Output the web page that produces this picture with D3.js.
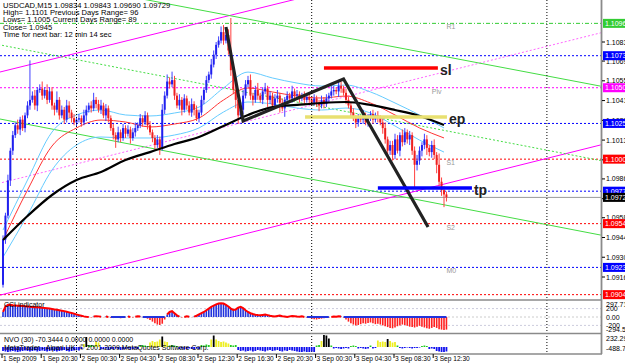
<!DOCTYPE html>
<meta charset="utf-8">
<style>
  body { margin: 0; background: #fff; }
  svg { display: block; font-family: "Liberation Sans", Arial, sans-serif; }
  .axis-text { font-size: 7px; fill: #000; }
  .time-text { font-size: 6.6px; fill: #000; }
</style>
<body>
<svg width="625" height="363"></svg>
<script src="https://d3js.org/d3.v7.min.js"></script>
<script>
    // ---- data ----
    let firstOpen = 1.0911;
    let closes = [
        1.0943,1.0960,1.0985,1.1006,1.1017,1.1024,1.1021,1.1028,1.1022,1.1031,
        1.1038,1.1042,1.1045,1.1038,1.1049,1.1050,1.1045,1.1049,1.1042,1.1048,
        1.1038,1.1035,1.1042,1.1031,1.1035,1.1028,1.1038,1.1033,1.1029,1.1026,
        1.1028,1.1029,1.1026,1.1031,1.1035,1.1038,1.1036,1.1042,1.1039,1.1035,
        1.1038,1.1031,1.1036,1.1029,1.1022,1.1017,1.1014,1.1019,1.1015,1.1022,
        1.1018,1.1021,1.1015,1.1019,1.1022,1.1024,1.1029,1.1026,1.1031,1.1024,
        1.1019,1.1015,1.1010,1.1014,1.1008,1.1035,1.1045,1.1055,1.1053,1.1056,
        1.1045,1.1038,1.1042,1.1035,1.1043,1.1038,1.1033,1.1039,1.1035,1.1029,
        1.1033,1.1042,1.1049,1.1056,1.1060,1.1067,1.1074,1.1081,1.1084,1.1090,
        1.1084,1.1088,1.1077,1.1063,1.1049,1.1042,1.1031,1.1035,1.1045,1.1053,
        1.1056,1.1045,1.1042,1.1049,1.1045,1.1042,1.1048,1.1050,1.1042,1.1045,
        1.1038,1.1043,1.1045,1.1040,1.1036,1.1042,1.1045,1.1043,1.1048,1.1045,
        1.1046,1.1043,1.1045,1.1042,1.1044,1.1042,1.1040,1.1043,1.1040,1.1038,
        1.1042,1.1039,1.1043,1.1045,1.1048,1.1049,1.1048,1.1052,1.1050,1.1047,
        1.1042,1.1038,1.1033,1.1029,1.1026,1.1029,1.1028,1.1031,1.1026,1.1029,
        1.1032,1.1028,1.1031,1.1029,1.1026,1.1022,1.1014,1.1006,1.1010,1.1003,
        1.1014,1.1006,1.1017,1.1012,1.1019,1.1014,1.1017,1.1006,1.0996,1.0999,
        1.1006,1.1010,1.1014,1.1008,1.1005,1.1010,1.1003,1.0996,1.0984,1.0978,
        1.0975,1.0973
    ];
    // wick lengths in pips above / below the body
    let wickUp = [
        3,2,4,2,3,2,4,2,3,2, 3,28,3,4,2,3,5,2,4,3, 3,2,6,2,3,2,4,3,2,3,
        2,3,2,4,3,2,3,5,2,3, 4,2,3,2,2,3,2,4,2,3, 2,3,2,3,4,2,3,2,3,2,
        3,2,2,3,2,4,3,5,3,6, 3,2,4,2,3,2,3,4,2,3, 2,3,2,3,2,4,3,2,3,4,
        5,3,4,23,4,8,3,5,4,3, 3,4,2,3,5,2,3,4,2,3, 2,3,4,2,3,2,3,2,4,2,
        3,2,2,3,2,3,2,3,2,2, 3,2,3,2,4,3,2,4,3,2, 3,2,2,3,2,3,2,4,2,3,
        2,3,2,3,2,3,4,2,3,3, 4,3,2,4,3,2,3,2,3,4, 3,2,4,3,2,3,4,2,8,3,
        3,2
    ];
    let wickDn = [
        2,3,2,4,3,2,3,4,2,3, 2,3,2,3,4,2,3,2,3,2, 3,4,2,3,2,3,2,4,3,2,
        3,2,3,2,4,2,3,2,3,2, 3,2,4,3,2,3,6,2,3,2, 3,2,4,2,3,2,2,3,2,3,
        2,3,4,2,5,2,3,2,3,2, 3,2,3,4,2,3,2,3,4,2, 3,2,3,2,2,3,2,3,2,2,
        3,2,3,4,3,6,6,2,3,2, 2,3,4,2,3,2,3,2,5,3, 3,2,3,7,2,6,3,2,3,2,
        2,3,2,3,2,3,2,2,3,4, 2,3,2,3,2,3,2,4,3,2, 3,2,3,2,4,3,2,3,2,3,
        2,3,2,3,2,4,3,5,3,4, 3,2,4,3,2,3,4,3,16,4, 3,4,3,5,3,4,3,6,3,4,
        9,3
    ];

    // moving averages, sampled every 10 bars
    let maBars = [0,10,20,30,40,50,60,70,80,90,100,110,120,130,140,150,160,170,180];
    let maSlow = [1.09427,1.09597,1.09746,1.09852,1.09909,1.09994,1.10050,1.10107,1.10157,1.10235,1.10313,1.10369,1.10384,1.10398,1.10405,1.10384,1.10348,1.10306,1.10242];
    let maFast = [1.09427,1.09781,1.10093,1.10221,1.10277,1.10263,1.10228,1.10249,1.10291,1.10419,1.10504,1.10476,1.10447,1.10433,1.10447,1.10398,1.10313,1.10221,1.10150];
    let envUp  = [1.09498,1.09852,1.10192,1.10313,1.10348,1.10313,1.10306,1.10327,1.10369,1.10504,1.10617,1.10575,1.10539,1.10518,1.10525,1.10476,1.10398,1.10313,1.10221];
    let envDn  = [1.09306,1.09604,1.09923,1.10100,1.10157,1.10150,1.10150,1.10171,1.10221,1.10334,1.10405,1.10391,1.10362,1.10348,1.10362,1.10327,1.10235,1.10135,1.10050];

    let cci = [
        120,250,285,290,280,275,270,265,260,255, 250,245,240,235,230,225,220,215,210,200,
        190,180,170,160,150,140,125,110,95,80, 60,45,30,15,5,0,-10,10,20,15,
        5,-5,10,0,-15,-25,-10,-20,-30,-15, -5,10,0,-10,5,15,10,-5,-20,-40,
        -70,-110,-150,-180,-190,-160,-60,60,120,140, 90,40,10,-10,0,15,5,-5,10,30,
        60,90,120,160,200,240,270,300,320,330, 320,290,250,200,170,180,220,240,210,160,
        120,90,70,55,45,40,50,60,45,30, 20,10,25,35,20,10,0,15,25,20,
        10,5,15,0,-10,-25,-40,-55,-60,-50, -40,-30,-20,-10,0,10,5,15,10,-10,
        -60,-110,-150,-180,-200,-190,-170,-150,-160,-140, -130,-150,-170,-160,-180,-200,-220,-240,-260,-270,
        -250,-220,-200,-180,-190,-210,-230,-240,-250,-230, -210,-230,-250,-270,-280,-260,-240,-260,-290,-300,
        -310,-300
    ];
    let nvo = [
        -80,-90,-100,-90,-80,-90,-100,-90,-80,-70, -80,-90,-80,-70,-90,-80,-70,-80,-90,-80,
        -70,-80,-90,-80,-70,-60,-80,-90,-80,-70, -60,-70,-40,60,200,40,40,30,100,90,
        -40,-50,-30,-60,-40,-50,-30,-40,-60,-50, -40,-30,-50,-40,-30,-40,30,40,30,20,
        90,120,100,110,150,210,110,100,30,40, 30,20,-40,-30,-50,-40,-30,-40,-50,-30,
        -40,40,30,50,40,150,230,150,120,100, 110,90,70,40,30,40,-60,-80,-70,-90,
        -80,-70,-90,-80,-60,-70,-80,-90,-70,-60, -80,-70,-60,-80,-90,-70,-80,-60,-70,-80,
        -90,-100,-100,-90,-100,-100,-90,-100,30,40, 120,240,230,170,30,-30,-20,-30,-40,-30,
        -20,-30,20,30,20,-30,-20,-30,-40,-30, 30,-30,-20,130,100,110,100,160,120,90,
        100,30,-20,-30,-20,-10,-20,-30,-20,-20, -10,20,30,20,-40,-30,-40,-80,-90,-100,
        -100,-90
    ];

    let timeLabels = ["1 Sep 2009","1 Sep 20:30","2 Sep 00:30","2 Sep 04:30","2 Sep 08:30","2 Sep 12:30",
                      "2 Sep 16:30","2 Sep 20:30","3 Sep 00:30","3 Sep 04:30","3 Sep 08:30","3 Sep 12:30"];
    let timeBars = [0,16,32,48,64,80,96,112,128,144,160,176];
    let daySeps = [30,126,222];

    let priceTicks = [1.10830,1.10695,1.10555,1.10415,1.10275,1.10135,1.09995,1.09860,1.09720,1.09585,1.09445,1.09305,1.09165];
    let levelPrices = [1.10962,1.10733,1.10506,1.10253,1.10000,1.09773,1.09729,1.09543,1.09233,1.09040];
    let levelColors = ["#33cc33","#0000ff","#ff00ff","#0000ff","#ff0000","#0000ff","#000000","#ff0000","#0000ff","#ff0000"];
    let pivotNames = ["R1","Piv","S1","S2","M0"];
    let pivotPrices = [1.10962,1.10506,1.10000,1.09543,1.09233];

    // channels: price at bar -2 and bar 244
    let chanBars = [-2, 244];
    let magUpper = [1.10614,1.11665];
    let magMid   = [1.09827,1.10895];
    let magLower = [1.09033,1.10101];
    let grnUpper = [1.11329,1.10517];
    let grnMid   = [1.10812,1.09990];
    let grnLower = [1.10287,1.09462];

    let zigBars = [91,98,139,173.5];
    let zigPrices = [1.10936,1.10270,1.10568,1.09519];

    let tradeNames = ["sl","ep","tp"];
    let tradeBars = [[131,177.5],[123.3,181.2],[153,191.4]];
    let tradePrices = [1.10646,1.10298,1.09795];
    let tradeColors = ["#ff0000","#e8e070","#0000ff"];

    let cciTicks = [297.714,200,0,-200,-294.598];

    // ---- layout ----
    var svg = d3.select("svg");
    let plotRight = 601;
    let mainBottom = 299;

    var x = d3.scaleLinear().domain([0, 100]).range([3, 248]);
    var y = d3.scaleLinear().domain([1.09165, 1.10830]).range([277, 42]);
    var yCci = d3.scaleLinear().domain([-300, 300]).range([329.6, 304.4]);
    var yNvo = d3.scaleLinear().domain([-100, 240]).range([352, 335]);

    svg.append("rect").attr("width", 625).attr("height", 363).attr("fill", "#fff");

    svg.append("clipPath").attr("id", "mainclip")
        .append("rect").attr("x", 0).attr("y", 0).attr("width", plotRight).attr("height", mainBottom);
    var g = svg.append("g").attr("clip-path", "url(#mainclip)");

    // horizontal levels
    levelPrices.forEach(function(p, k) {
        let line = g.append("line")
            .attr("x1", 0).attr("x2", plotRight)
            .attr("y1", y(p)).attr("y2", y(p))
            .attr("stroke", levelColors[k]).attr("stroke-width", 1);
        if (k == 6) {
            line.attr("stroke", "#9a9a9a");
        } else if (k == 0) {
            line.attr("stroke-dasharray", "4,2,1,2");
        } else {
            line.attr("stroke-dasharray", "2,2");
        }
    });

    // day separators
    daySeps.forEach(function(b) {
        svg.append("line")
            .attr("x1", x(b)).attr("x2", x(b)).attr("y1", 0).attr("y2", 354)
            .attr("stroke", "#000").attr("stroke-width", 1).attr("stroke-dasharray", "1,2");
    });

    // channels
    function chan(prices, color, dash) {
        g.append("line")
            .attr("x1", x(chanBars[0])).attr("y1", y(prices[0]))
            .attr("x2", x(chanBars[1])).attr("y2", y(prices[1]))
            .attr("stroke", color).attr("stroke-width", 1)
            .attr("stroke-dasharray", dash);
    }
    chan(magUpper, "#ff00ff", null);
    chan(magMid, "#ff66ff", "2,2");
    chan(magLower, "#ff00ff", null);
    chan(grnUpper, "#44dd44", null);
    chan(grnMid, "#44dd44", "2,2");
    chan(grnLower, "#44dd44", null);

    // moving averages
    function maLine(vals, color, width) {
        let pts = vals.map((v, k) => [maBars[k], v]);
        g.append("path")
            .attr("d", d3.line().x(d => x(d[0])).y(d => y(d[1])).curve(d3.curveMonotoneX)(pts))
            .attr("fill", "none").attr("stroke", color).attr("stroke-width", width);
    }
    maLine(envUp, "#66ccff", 1);
    maLine(envDn, "#66ccff", 1);
    maLine(maFast, "#ff3333", 1);

    // candles
    let bars = closes.map(function(c, i) {
        let o = i == 0 ? firstOpen : closes[i - 1];
        return { i: i, o: o, c: c,
                 h: Math.max(o, c) + wickUp[i] / 10000,
                 l: Math.min(o, c) - wickDn[i] / 10000 };
    });
    let candle = g.append("g").selectAll("g").data(bars).enter().append("g");
    candle.append("line")
        .attr("x1", d => x(d.i)).attr("x2", d => x(d.i))
        .attr("y1", d => y(d.h)).attr("y2", d => y(d.l))
        .attr("stroke", d => d.c >= d.o ? "#4040ff" : "#ff4040").attr("stroke-width", 1);
    candle.append("rect")
        .attr("x", d => x(d.i) - 1)
        .attr("width", 2)
        .attr("y", d => y(Math.max(d.o, d.c)))
        .attr("height", d => Math.max(1, Math.abs(y(d.o) - y(d.c))))
        .attr("fill", d => d.c >= d.o ? "#2020ee" : "#ee2020");

    maLine(maSlow, "#000", 2.2);

    // zigzag
    let zig = zigBars.map((b, k) => [b, zigPrices[k]]);
    g.append("path")
        .attr("d", d3.line().x(d => x(d[0])).y(d => y(d[1]))(zig))
        .attr("fill", "none").attr("stroke", "#222").attr("stroke-width", 3.2)
        .attr("stroke-linejoin", "miter");

    // trade lines
    tradeNames.forEach(function(name, k) {
        g.append("line")
            .attr("x1", x(tradeBars[k][0])).attr("x2", x(tradeBars[k][1]))
            .attr("y1", y(tradePrices[k])).attr("y2", y(tradePrices[k]))
            .attr("stroke", tradeColors[k]).attr("stroke-width", 3.5);
        g.append("text")
            .attr("x", x(tradeBars[k][1]) + 2).attr("y", y(tradePrices[k]) + 7)
            .attr("font-size", 14).attr("font-weight", "bold").attr("fill", "#222")
            .text(name);
    });

    // pivot names
    pivotNames.forEach(function(n, k) {
        g.append("text")
            .attr("x", n == "Piv" ? x(175) : x(181)).attr("y", y(pivotPrices[k]) + 6)
            .attr("font-size", 7).attr("fill", "#999").text(n);
    });

    // info text top-left
    let info = ["USDCAD,M15  1.09834 1.09843 1.09690 1.09729",
                "High= 1.1101    Previous Days Range= 96",
                "Lows= 1.1005    Current Days Range= 89",
                "Close= 1.0945",
                "Time for next bar: 12 min 14 sec"];
    let infoY = [8, 15, 22, 30, 37];
    info.forEach(function(t, k) {
        svg.append("text").attr("x", 3).attr("y", infoY[k])
            .attr("font-size", 7.6).attr("fill", "#000").text(t);
    });

    // ---- sub windows ----
    // CCI
    svg.append("line").attr("x1", 0).attr("x2", plotRight).attr("y1", yCci(0)).attr("y2", yCci(0))
        .attr("stroke", "#ccc").attr("stroke-dasharray", "2,2");
    [200, -200].forEach(function(v) {
        svg.append("line").attr("x1", 0).attr("x2", plotRight).attr("y1", yCci(v)).attr("y2", yCci(v))
            .attr("stroke", "#ccd").attr("stroke-dasharray", "2,2");
    });
    svg.append("g").selectAll("line").data(cci).enter().append("line")
        .attr("x1", (d, i) => x(i)).attr("x2", (d, i) => x(i))
        .attr("y1", yCci(0)).attr("y2", d => yCci(d))
        .attr("stroke", d => d >= 0 ? "#2233dd" : "#ff2020").attr("stroke-width", 1.6);
    svg.append("path")
        .attr("d", d3.line().defined(d => d >= 0).x((d, i) => x(i)).y(d => yCci(d))(cci))
        .attr("fill", "none").attr("stroke", "#ff0000").attr("stroke-width", 2);
    svg.append("path")
        .attr("d", d3.line().defined(d => d < 0).x((d, i) => x(i)).y(d => yCci(0))(cci))
        .attr("fill", "none").attr("stroke", "#2233dd").attr("stroke-width", 2);
    svg.append("text").attr("x", 4).attr("y", 307).attr("font-size", 7).attr("fill", "#000").text("CCI indicator");

    // NVO
    svg.append("g").selectAll("line").data(nvo).enter().append("line")
        .attr("x1", (d, i) => x(i)).attr("x2", (d, i) => x(i))
        .attr("y1", yNvo(0)).attr("y2", d => yNvo(d))
        .attr("stroke", d => d < 0 ? "#1111ee" : d < 60 ? "#22cc22" : d < 155 ? "#eeee22" : "#000")
        .attr("stroke-width", 1.8);
    svg.append("text").attr("x", 4).attr("y", 342).attr("font-size", 7).attr("fill", "#000")
        .text("NVO (30) -70.3444 0.0000 0.0000 0.0000");
    svg.append("text").attr("x", 4).attr("y", 350).attr("font-size", 7).attr("fill", "#000")
        .text("MetaTrader - Alpari UK, \u00a9 2001-2009 MetaQuotes Software Corp.");

    // window separators
    [300, 333.5, 354].forEach(function(yy) {
        svg.append("line").attr("x1", 0).attr("x2", plotRight + 1).attr("y1", yy).attr("y2", yy)
            .attr("stroke", "#8a8a8a").attr("stroke-width", 1.6);
    });

    // right axis
    svg.append("line").attr("x1", plotRight + 0.5).attr("x2", plotRight + 0.5).attr("y1", 0).attr("y2", 354)
        .attr("stroke", "#8a8a8a").attr("stroke-width", 1.8);
    priceTicks.forEach(function(p) {
        svg.append("line").attr("x1", plotRight + 1).attr("x2", plotRight + 4)
            .attr("y1", y(p)).attr("y2", y(p)).attr("stroke", "#000");
        svg.append("text").attr("class", "axis-text").attr("x", plotRight + 5).attr("y", y(p) + 2.5)
            .text(p.toFixed(5));
    });
    levelPrices.forEach(function(p, k) {
        svg.append("rect").attr("x", plotRight + 2).attr("y", y(p) - 4.5)
            .attr("width", 24).attr("height", 9).attr("fill", levelColors[k]);
        svg.append("text").attr("class", "axis-text").attr("x", plotRight + 4).attr("y", y(p) + 2.5)
            .style("fill", "#fff").text(p.toFixed(5));
    });
    cciTicks.forEach(function(v) {
        svg.append("text").attr("class", "axis-text").attr("x", plotRight + 5).attr("y", yCci(v) + 2.5)
            .text(Math.abs(v) == 200 ? String(v) : v.toFixed(v == 0 ? 2 : 3));
    });
    svg.append("text").attr("class", "axis-text").attr("x", plotRight + 5).attr("y", 341).text("232.292");
    svg.append("text").attr("class", "axis-text").attr("x", plotRight + 5).attr("y", 351).text("-488.713");

    // time axis
    timeBars.forEach(function(b, k) {
        svg.append("line").attr("x1", x(b) - 1).attr("x2", x(b) - 1).attr("y1", 354).attr("y2", 358)
            .attr("stroke", "#000");
        svg.append("text").attr("class", "time-text").attr("x", x(b)).attr("y", 361)
            .text(timeLabels[k]);
    });
</script>
